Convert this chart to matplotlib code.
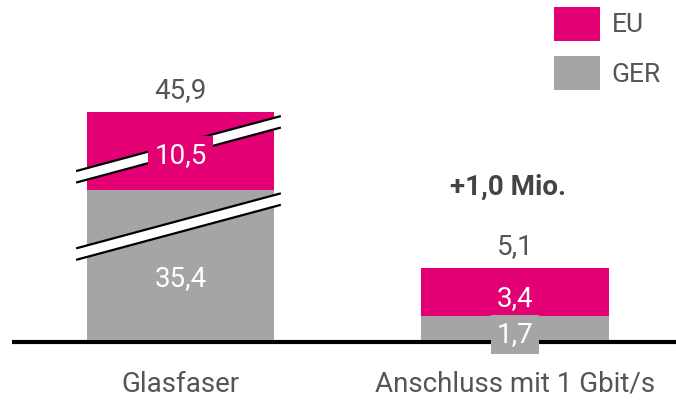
import matplotlib
matplotlib.use("Agg")
import matplotlib.pyplot as plt
from matplotlib.patches import Polygon

# --- data -------------------------------------------------------------
categories = ["Glasfaser", "Anschluss mit 1 Gbit/s"]
ger = [35.4, 1.7]
eu = [10.5, 3.4]
totals = [45.9, 5.1]
series_names = ["EU", "GER"]
growth_label = "+1,0 Mio."

# amount removed from each segment by the axis break (first bar only)
ger_cut = [24.82, 0.0]
eu_cut = [4.98, 0.0]

# --- style ------------------------------------------------------------
MAGENTA = "#E20074"
GREY = "#A5A5A5"
TEXT = "#555555"
WEIGHT = "normal"
plt.rcParams["font.family"] = ["Roboto", "DejaVu Sans"]

fig = plt.figure(figsize=(6.76, 4.01), dpi=100)
ax = fig.add_axes([0, 0, 1, 1])
ax.set_xlim(-0.5396, 1.4813)
ax.set_ylim(-4.30, 23.98)
ax.axis("off")

x = list(range(len(categories)))
ger_shown = [g - c for g, c in zip(ger, ger_cut)]
eu_shown = [e - c for e, c in zip(eu, eu_cut)]
tops = [g + e for g, e in zip(ger_shown, eu_shown)]

width = 0.562
b_ger = ax.bar(x, ger_shown, width, color=GREY, zorder=2, label=series_names[1])
b_eu = ax.bar(x, eu_shown, width, bottom=ger_shown, color=MAGENTA, zorder=2,
              label=series_names[0])

# baseline
ax.plot([-0.504, 1.4813], [-0.14, -0.14], color="black", lw=3.0,
        solid_capstyle="butt", zorder=1)

# axis-break markers on the first bar
def draw_break(yc, x0=-0.312, x1=0.300, rise=3.88, half=0.405):
    xm = (x0 + x1) / 2
    yl = yc - rise * (xm - x0) / (x1 - x0)
    yr = yl + rise
    poly = Polygon([(x0, yl - half), (x1, yr - half), (x1, yr + half), (x0, yl + half)],
                   closed=True, fc="white", ec="none", zorder=3)
    ax.add_patch(poly)
    for s in (-half, half):
        ax.plot([x0, x1], [yl + s, yr + s], color="black", lw=1.6, zorder=4,
                solid_capstyle="butt")

draw_break(8.0)
draw_break(13.45)

def fmt(v):
    return f"{v:.1f}".replace(".", ",")

fs = 20

# totals above the bars
for i in x:
    ax.text(i, tops[i] + 0.95, fmt(totals[i]), ha="center", va="baseline",
            fontsize=fs, color=TEXT, fontweight=WEIGHT, zorder=6)

label_kw = dict(ha="center", va="baseline", fontsize=fs, color="white",
                fontweight=WEIGHT, zorder=6)
# first bar
ax.text(0, 12.46, fmt(eu[0]),
        bbox=dict(boxstyle="square,pad=0.23", fc=MAGENTA, ec="none"), **label_kw)
ax.text(0, 3.81, fmt(ger[0]), **label_kw)
# second bar
ax.text(1, ger_shown[1] + eu_shown[1] / 2 - 0.98, fmt(eu[1]), **label_kw)
ax.text(1, -0.12, fmt(ger[1]),
        bbox=dict(boxstyle="square,pad=0.22", fc=GREY, ec="none"), **label_kw)

# growth annotation
ax.text(0.979, 10.27, growth_label, ha="center", va="baseline", fontsize=fs,
        fontweight="bold", color="#444444", zorder=6)

# category labels
for i, c in enumerate(categories):
    ax.text(i, -3.65, c, ha="center", va="baseline", fontsize=fs, color=TEXT,
            fontweight=WEIGHT)

# legend
lfs = 19
leg = ax.legend(handles=[b_eu, b_ger], labels=series_names, loc="upper left",
                bbox_to_anchor=(554 / 676, 1 - 6.7 / 401), frameon=False,
                borderpad=0, borderaxespad=0, handlelength=1.74, handleheight=1.605,
                handletextpad=0.45, labelspacing=0.58, fontsize=lfs)
for t in leg.get_texts():
    t.set_color(TEXT)
    t.set_fontweight(WEIGHT)

fig.savefig("out.png", dpi=100)
